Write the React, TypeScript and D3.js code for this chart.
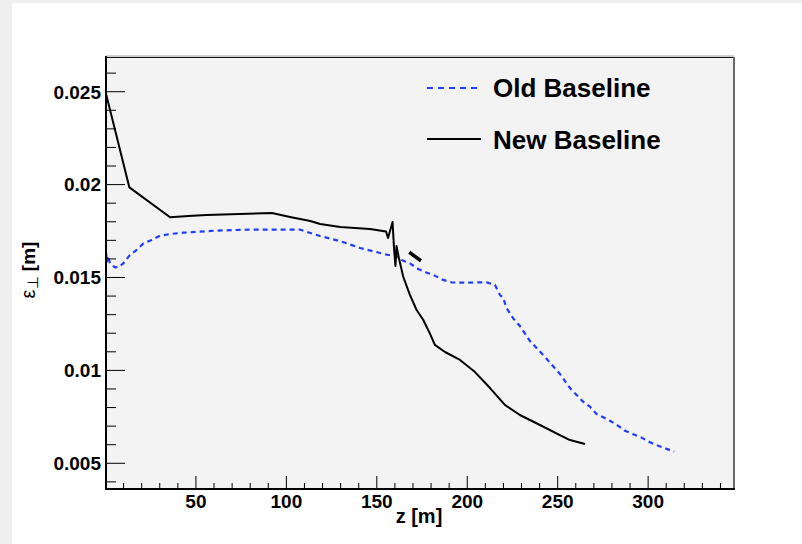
import React from "react";
import * as d3 from "d3";

// Old baseline (blue dashed): z [m], emittance [m]
const oldZ = [0.3, 0.8, 1.4, 2.5, 5.3, 7.5, 9.8, 13.5, 17.2, 20.9, 25.5, 30.1, 35.7, 43.0, 52.2, 60.5, 79.9, 107.5, 118.6, 129.7, 140.7, 151.8, 156.2, 160.0, 163.7, 168.3, 172.9, 177.6, 182.1, 186.7, 191.4, 196.0, 210.7, 215.3, 218.1, 219.9, 221.8, 225.4, 229.1, 234.7, 243.0, 251.3, 256.8, 264.0, 267.8, 271.5, 275.2, 279.8, 283.5, 287.2, 291.8, 296.4, 301.0, 304.7, 309.3, 314.4];
const oldE = [0.01632, 0.01583, 0.01616, 0.01573, 0.01555, 0.01556, 0.01576, 0.01621, 0.01648, 0.01683, 0.01702, 0.01725, 0.01734, 0.01741, 0.01747, 0.01752, 0.01758, 0.01758, 0.01723, 0.01696, 0.01659, 0.01632, 0.01621, 0.01621, 0.01594, 0.01576, 0.01546, 0.01526, 0.0151, 0.01487, 0.01474, 0.01472, 0.01474, 0.0146, 0.01406, 0.01388, 0.01334, 0.0128, 0.01239, 0.01158, 0.01072, 0.0098, 0.00905, 0.00832, 0.00805, 0.00765, 0.00748, 0.00724, 0.00701, 0.00675, 0.00656, 0.00638, 0.00613, 0.00598, 0.00581, 0.00562];

// New baseline (black solid)
const newZ = [0.0, 13.2, 35.7, 45.8, 55.9, 92.0, 102.0, 113.2, 118.7, 129.7, 146.2, 155.1, 156.2, 157.3, 158.7, 159.5, 160.3, 160.9, 162.2, 164.6, 168.3, 172.0, 175.7, 179.5, 182.1, 187.7, 196.0, 204.3, 212.6, 220.8, 229.1, 240.2, 251.2, 256.8, 265.1];
const newE = [0.025, 0.01985, 0.01824, 0.01831, 0.01836, 0.01847, 0.01826, 0.01804, 0.01788, 0.01772, 0.01761, 0.01748, 0.01713, 0.0175, 0.01799, 0.01659, 0.01562, 0.01669, 0.01605, 0.01504, 0.01406, 0.01325, 0.01271, 0.01195, 0.01137, 0.01099, 0.01056, 0.00991, 0.00905, 0.00814, 0.0076, 0.00706, 0.00652, 0.00625, 0.00604];
// small detached piece of the new baseline
const newPieceZ = [167.9, 174.4];
const newPieceE = [0.01636, 0.0159];

const xMajorTicks = [50, 100, 150, 200, 250, 300];
const yMajorTicks = [0.005, 0.01, 0.015, 0.02, 0.025];
const yTickLabels = ["0.005", "0.01", "0.015", "0.02", "0.025"];
const legendLabels = ["Old Baseline", "New Baseline"];

const W = 802;
const H = 544;
const L = 106, R = 734, T = 57, B = 489;
const FONT = "'Liberation Sans', Arial, Helvetica, sans-serif";

export default function App() {
  const x = d3.scaleLinear().domain([0, 347.2]).range([105.5, 733.5]);
  const y = d3.scaleLinear().domain([0.003616, 0.026868]).range([B, T]);

  const line = d3
    .line<[number, number]>()
    .x((d) => x(d[0]))
    .y((d) => y(d[1]));

  const oldPts = oldZ.map((z, i) => [z, oldE[i]] as [number, number]);
  const newPts = newZ.map((z, i) => [z, newE[i]] as [number, number]);
  const piecePts = newPieceZ.map((z, i) => [z, newPieceE[i]] as [number, number]);

  const xMinor = d3.range(10, 347, 10).filter((v) => v % 50 !== 0);
  const yMinor = d3.range(4, 27, 1).map((v) => v / 1000).filter((v) => Math.round(v * 1000) % 5 !== 0);

  return (
    <div style={{ position: "absolute", left: 0, top: 0 }}>
      <svg width={W} height={H} style={{ display: "block" }}>
        <rect x={0} y={0} width={W} height={H} fill="#efefef" />
        <rect x={12} y={3} width={W - 12} height={H - 3} fill="#ffffff" />
        <defs>
          <clipPath id="plotclip">
            <rect x={L} y={T} width={R - L} height={B - T} />
          </clipPath>
        </defs>
        <rect x={L} y={T} width={R - L} height={B - T} fill="#f3f3f3" />
        {/* frame top/right */}
        <line x1={L} x2={R} y1={T - 1} y2={T - 1} stroke="#9a9a9a" strokeWidth={1} />
        <line x1={L} x2={R} y1={T + 0.5} y2={T + 0.5} stroke="#111" strokeWidth={1.2} />
        <line x1={R} x2={R} y1={T} y2={B} stroke="#666" strokeWidth={2} />

        {/* curves */}
        <g clipPath="url(#plotclip)">
          <path d={line(oldPts) || ""} fill="none" stroke="#1f3dff" strokeWidth={2.2} strokeDasharray="5,4" />
          <path d={line(newPts) || ""} fill="none" stroke="#000" strokeWidth={2} strokeLinejoin="round" />
          <path d={line(piecePts) || ""} fill="none" stroke="#000" strokeWidth={3.5} />
        </g>

        {/* y ticks */}
        {yMajorTicks.map((v) => (
          <line key={"ym" + v} x1={L} x2={L + 19} y1={y(v)} y2={y(v)} stroke="#000" strokeWidth={1} />
        ))}
        {yMinor.map((v) => (
          <line key={"yn" + v} x1={L} x2={L + 10} y1={y(v)} y2={y(v)} stroke="#000" strokeWidth={1} />
        ))}
        {yMajorTicks.map((v, i) => (
          <text key={"yl" + v} x={101} y={y(v)} dy="0.36em" textAnchor="end" fontFamily={FONT} fontWeight="bold" fontSize={19} fill="#000">
            {yTickLabels[i]}
          </text>
        ))}

        {/* x ticks */}
        {xMajorTicks.map((v) => (
          <line key={"xm" + v} x1={x(v)} x2={x(v)} y1={B} y2={B - 13} stroke="#000" strokeWidth={1} />
        ))}
        {xMinor.map((v) => (
          <line key={"xn" + v} x1={x(v)} x2={x(v)} y1={B} y2={B - 6} stroke="#000" strokeWidth={1} />
        ))}
        {xMajorTicks.map((v) => (
          <text key={"xl" + v} x={x(v)} y={508} textAnchor="middle" fontFamily={FONT} fontWeight="bold" fontSize={19} fill="#000">
            {v}
          </text>
        ))}

        {/* axes lines */}
        <line x1={L} x2={L} y1={T - 1} y2={B + 1} stroke="#000" strokeWidth={2} />
        <line x1={L - 1} x2={R + 1} y1={B} y2={B} stroke="#000" strokeWidth={2} />

        {/* axis titles */}
        <text x={419} y={523} textAnchor="middle" fontFamily={FONT} fontWeight="bold" fontSize={20} fill="#000">
          z [m]
        </text>
        <text transform="translate(35,270) rotate(-90)" textAnchor="middle" fontFamily={FONT} fill="#000">
          <tspan fontSize={20}>ε</tspan>
          <tspan fontSize={15} dy={3}>⊥</tspan>
          <tspan fontSize={19} fontWeight="bold" dy={-3}> [m]</tspan>
        </text>

        {/* legend */}
        <line x1={427} x2={481} y1={88} y2={88} stroke="#1f3dff" strokeWidth={2.2} strokeDasharray="6,5" />
        <text x={493} y={97} fontFamily={FONT} fontWeight="bold" fontSize={26} fill="#000">
          {legendLabels[0]}
        </text>
        <line x1={427} x2={481} y1={139} y2={139} stroke="#000" strokeWidth={2} />
        <text x={493} y={149} fontFamily={FONT} fontWeight="bold" fontSize={26} fill="#000">
          {legendLabels[1]}
        </text>
      </svg>
    </div>
  );
}
